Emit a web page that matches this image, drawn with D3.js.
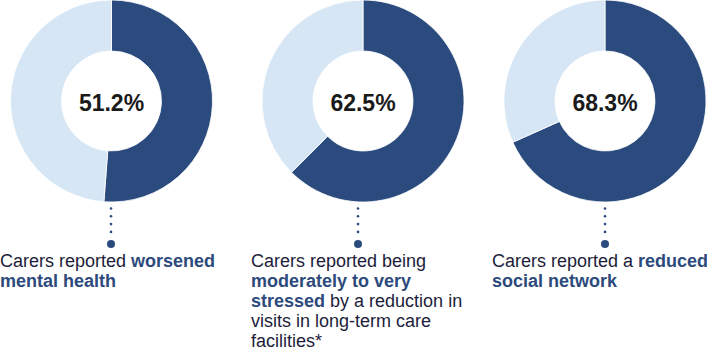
<!DOCTYPE html>
<html>
<head>
<meta charset="utf-8">
<script src="https://cdn.jsdelivr.net/npm/d3@7"></script>
<style>
    body { margin: 0; background: #fff; }
    svg { display: block; font-family: 'Liberation Sans', Arial, sans-serif; }
</style>
</head>
<body>
<svg id="chart" width="707" height="350"></svg>
<script>
// share of carers (%)
var values = [51.2, 62.5, 68.3];

// caption lines, each line a list of [text, bold?] runs
var captions = [
    [
        [['Carers reported ', false], ['worsened', true]],
        [['mental health', true]],
    ],
    [
        [['Carers reported being', false]],
        [['moderately to very', true]],
        [['stressed', true], [' by a reduction in', false]],
        [['visits in long-term care', false]],
        [['facilities*', false]],
    ],
    [
        [['Carers reported a ', false], ['reduced', true]],
        [['social network', true]],
    ],
];

var dark = '#2b4b7e',
    light = '#d6e6f5',
    textDark = '#1d1d3b',
    textBold = '#2d4a7c';

var svg = d3.select('#chart');

// layout
var centers = [111.5, 363, 605];
var dotX = [111, 358, 605];
var textX = [0, 251, 492];
var cy = 101;
var outerR = 101, innerR = 50;

var pie = d3.pie().sort(null).value(d => d);
var arc = d3.arc().innerRadius(innerR).outerRadius(outerR);
var fmt = d3.format('.1f');

values.forEach(function (v, i) {
    var g = svg.append('g')
        .attr('transform', 'translate(' + centers[i] + ',' + cy + ')');

    g.selectAll('path')
        .data(pie([v, 100 - v]))
        .enter().append('path')
            .attr('d', arc)
            .attr('fill', (d, j) => j == 0 ? dark : light)
            .attr('stroke', '#fff')
            .attr('stroke-width', 0.8);

    g.append('text')
        .attr('text-anchor', 'middle')
        .attr('y', 10)
        .attr('font-size', 23)
        .attr('font-weight', 'bold')
        .attr('fill', '#1a1a1a')
        .text(fmt(v) + '%');

    // dotted leader
    var lead = svg.append('g').attr('transform', 'translate(' + dotX[i] + ',0)');
    lead.selectAll('circle.small')
        .data(d3.range(4))
        .enter().append('circle')
            .attr('class', 'small')
            .attr('cy', d => 208.5 + d * 7.8)
            .attr('r', 1.3)
            .attr('fill', dark);
    lead.append('circle')
        .attr('cy', 244)
        .attr('r', 4)
        .attr('fill', dark);

    // caption
    var t = svg.append('text')
        .attr('font-size', 18)
        .attr('fill', textDark);
    captions[i].forEach(function (line, k) {
        line.forEach(function (run, r) {
            var ts = t.append('tspan').text(run[0]);
            if (r == 0) ts.attr('x', textX[i]).attr('y', 266.5 + k * 20);
            if (run[1]) ts.attr('font-weight', 'bold').attr('fill', textBold);
        });
    });
});
</script>
</body>
</html>
